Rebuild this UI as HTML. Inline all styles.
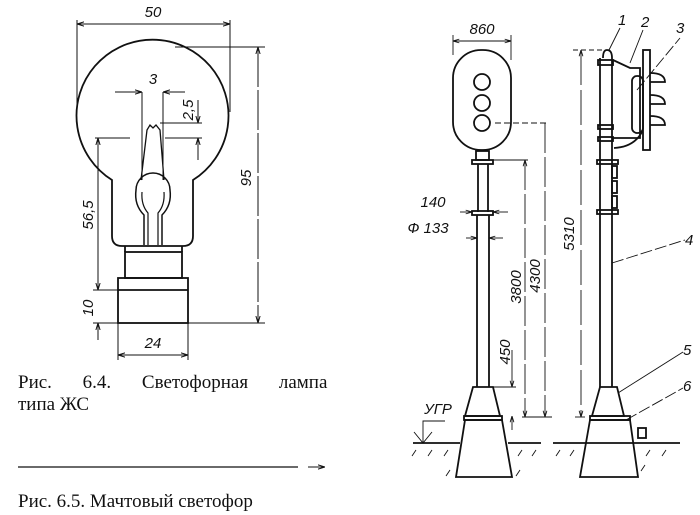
<!DOCTYPE html>
<html><head><meta charset="utf-8"><style>
html,body{margin:0;padding:0;background:#fff}
svg{display:block}
.d{font-family:"Liberation Sans",sans-serif;font-style:italic;font-size:15px;fill:#111}
.c{font-family:"Liberation Serif",serif;font-size:19px;fill:#111}
</style></head><body>
<svg width="700" height="515" viewBox="0 0 700 515" xmlns="http://www.w3.org/2000/svg">
<defs>
<marker id="a" viewBox="0 0 10 10" refX="10" refY="5" markerWidth="7" markerHeight="7" orient="auto-start-reverse"><path d="M0,2 L10,5 L0,8" fill="none" stroke="#111" stroke-width="1.4"/></marker>
</defs>
<g fill="none" stroke="#111" stroke-width="1.8">
<path d="M112,180 A76,76 0 1 1 193,180 L193,236 Q193,246 183,246 L122,246 Q112,246 112,236 Z"/>
<rect x="125" y="252" width="57" height="26"/>
<rect x="118" y="278" width="70" height="45"/>
<line x1="118" y1="290" x2="188" y2="290"/>
<line x1="125" y1="246" x2="125" y2="252"/><line x1="182" y1="246" x2="182" y2="252"/>
<path d="M141,180 L147,130 L150,125 L153,128 L156,125 L160,130 L164,180" stroke-width="1.3"/>
<path d="M144,245 L144,215 Q134,205 136,190 A17,17 0 0 1 170,190 Q172,205 162,215 L162,245" stroke-width="1.5"/>
<path d="M148,245 L148,213 Q141,205 142,192 M158,245 L158,213 Q165,205 164,192" stroke-width="1.2"/>
</g>
<g fill="none" stroke="#111" stroke-width="1">
<line x1="77" y1="20" x2="77" y2="108"/><line x1="230" y1="20" x2="230" y2="112"/>
<line x1="77" y1="24" x2="230" y2="24" marker-start="url(#a)" marker-end="url(#a)"/>
<line x1="175" y1="47" x2="265" y2="47"/><line x1="188" y1="323" x2="265" y2="323"/>
<line x1="258" y1="47" x2="258" y2="323" marker-start="url(#a)" marker-end="url(#a)" stroke-dasharray="40 3"/>
<line x1="95" y1="138" x2="130" y2="138"/>
<line x1="98" y1="138" x2="98" y2="290" marker-start="url(#a)" marker-end="url(#a)"/>
<line x1="93" y1="290" x2="118" y2="290"/><line x1="93" y1="323" x2="118" y2="323"/>
<line x1="98" y1="323" x2="98" y2="340" marker-start="url(#a)"/>
<line x1="118" y1="323" x2="118" y2="360"/><line x1="188" y1="323" x2="188" y2="360"/>
<line x1="118" y1="355" x2="188" y2="355" marker-start="url(#a)" marker-end="url(#a)"/>
<line x1="142" y1="92" x2="142" y2="180"/><line x1="163" y1="92" x2="163" y2="180"/>
<line x1="115" y1="92" x2="142" y2="92" marker-end="url(#a)"/><line x1="185" y1="92" x2="163" y2="92" marker-end="url(#a)"/>
<line x1="160" y1="123" x2="202" y2="123"/><line x1="165" y1="138" x2="202" y2="138"/>
<line x1="198" y1="100" x2="198" y2="123" marker-end="url(#a)"/><line x1="198" y1="160" x2="198" y2="138" marker-end="url(#a)"/>
</g>
<text class="d" x="153" y="17" text-anchor="middle">50</text>
<text class="d" x="153" y="84" text-anchor="middle">3</text>
<text class="d" transform="translate(193,110) rotate(-90)" text-anchor="middle">2,5</text>
<text class="d" transform="translate(251,178) rotate(-90)" text-anchor="middle">95</text>
<text class="d" transform="translate(93,215) rotate(-90)" text-anchor="middle">56,5</text>
<text class="d" transform="translate(93,308) rotate(-90)" text-anchor="middle">10</text>
<text class="d" x="153" y="348" text-anchor="middle">24</text>
<text class="c" x="18" y="388" word-spacing="26">Рис. 6.4. Светофорная лампа</text>
<text class="c" x="18" y="410">типа ЖС</text>
<line x1="18" y1="467" x2="298" y2="467" stroke="#111" stroke-width="1.2"/>
<line x1="308" y1="467" x2="325" y2="467" stroke="#111" stroke-width="1" marker-end="url(#a)"/>
<text class="c" x="18" y="507">Рис. 6.5. Мачтовый светофор</text>

<g fill="none" stroke="#111" stroke-width="1.8">
<rect x="453" y="50" width="58" height="100" rx="28"/>
<circle cx="482" cy="82" r="8"/><circle cx="482" cy="103" r="8"/><circle cx="482" cy="123" r="8"/>
<rect x="476" y="151" width="13" height="9"/>
<rect x="472" y="160" width="21" height="4"/>
<line x1="478" y1="164" x2="478" y2="212"/><line x1="488" y1="164" x2="488" y2="212"/>
<rect x="472" y="211" width="21" height="4"/>
<line x1="477" y1="215" x2="477" y2="387"/><line x1="489" y1="215" x2="489" y2="387"/>
<path d="M473,387 L493,387 L500,416 L465,416 Z"/>
<rect x="464" y="416" width="38" height="4"/>
<path d="M465,420 L502,420 L512,477 L456,477 Z"/>
<line x1="413" y1="443" x2="460" y2="443"/><line x1="508" y1="443" x2="541" y2="443"/>
<line x1="600" y1="58" x2="600" y2="387"/><line x1="612" y1="58" x2="612" y2="387"/>
<path d="M603,58 Q603,50 607,50 Q612,50 612,58"/>
<rect x="598" y="60" width="15" height="5"/>
<path d="M613,60 L630,68 L640,68 L640,138 L612,138"/>
<rect x="643" y="50" width="7" height="100"/>
<rect x="632" y="76" width="11" height="57" rx="5"/>
<path d="M650,73 Q665,73 665,82 L650,82 M650,95 Q665,95 665,104 L650,104 M650,116 Q665,116 665,125 L650,125"/>
<path d="M614,148 Q635,147 643,130"/>
<rect x="598" y="125" width="15" height="4"/><rect x="598" y="137" width="15" height="4"/>
<rect x="597" y="160" width="21" height="4"/><rect x="597" y="210" width="21" height="4"/>
<rect x="612" y="166" width="5" height="12"/><rect x="612" y="181" width="5" height="12"/><rect x="612" y="196" width="5" height="12"/>
<path d="M600,387 L617,387 L624,416 L592,416 Z"/>
<rect x="590" y="416" width="40" height="4"/>
<path d="M590,420 L630,420 L638,477 L580,477 Z"/>
<rect x="638" y="428" width="8" height="10"/>
<line x1="553" y1="443" x2="680" y2="443"/>
</g>
<g stroke="#111" stroke-width="0.9" fill="none">
<path d="M416,450 l-4,6 M432,450 l-4,6 M448,450 l-4,6 M522,450 l-4,6 M536,450 l-4,6 M560,450 l-4,6 M574,450 l-4,6 M650,450 l-4,6 M666,450 l-4,6 M450,470 l-4,6 M520,470 l-4,6 M645,465 l-4,6"/>
<line x1="453" y1="35" x2="453" y2="55"/><line x1="511" y1="35" x2="511" y2="60"/>
<line x1="453" y1="41" x2="511" y2="41" marker-start="url(#a)" marker-end="url(#a)"/>
<line x1="495" y1="123" x2="548" y2="123" stroke-dasharray="6 3"/>
<line x1="493" y1="160" x2="528" y2="160"/>
<line x1="545" y1="123" x2="545" y2="417" stroke-dasharray="30 4" marker-end="url(#a)"/>
<line x1="525" y1="160" x2="525" y2="417" stroke-dasharray="30 4" marker-start="url(#a)" marker-end="url(#a)"/>
<line x1="522" y1="417" x2="552" y2="417"/>
<line x1="493" y1="387" x2="516" y2="387"/>
<line x1="512" y1="350" x2="512" y2="387" marker-end="url(#a)"/>
<line x1="512" y1="430" x2="512" y2="416" marker-end="url(#a)"/>
<line x1="460" y1="212" x2="472" y2="212" marker-end="url(#a)"/><line x1="508" y1="212" x2="493" y2="212" marker-end="url(#a)"/>
<line x1="466" y1="238" x2="477" y2="238" marker-end="url(#a)"/><line x1="503" y1="238" x2="489" y2="238" marker-end="url(#a)"/>
<line x1="573" y1="50" x2="603" y2="50" stroke-dasharray="5 3"/>
<line x1="581" y1="50" x2="581" y2="417" stroke-dasharray="35 5" marker-start="url(#a)" marker-end="url(#a)"/>
<line x1="575" y1="417" x2="585" y2="417"/>
<line x1="609" y1="50" x2="620" y2="28"/>
<line x1="630" y1="63" x2="643" y2="30"/>
<line x1="637" y1="90" x2="680" y2="38" stroke-dasharray="12 3"/>
<line x1="612" y1="263" x2="685" y2="240" stroke-dasharray="12 3"/>
<line x1="618" y1="393" x2="683" y2="352"/>
<line x1="626" y1="420" x2="683" y2="388" stroke-dasharray="12 3"/>
<path d="M423,443 L423,421 L445,421 M414,432 L423,443 L432,432"/>
</g>
<text class="d" x="482" y="34" text-anchor="middle">860</text>
<text class="d" x="433" y="207" text-anchor="middle">140</text>
<text class="d" x="428" y="233" text-anchor="middle">Ф 133</text>
<text class="d" transform="translate(521,287) rotate(-90)" text-anchor="middle">3800</text>
<text class="d" transform="translate(540,276) rotate(-90)" text-anchor="middle">4300</text>
<text class="d" transform="translate(510,352) rotate(-90)" text-anchor="middle">450</text>
<text class="d" transform="translate(574,234) rotate(-90)" text-anchor="middle">5310</text>
<text class="d" x="438" y="414" text-anchor="middle" font-size="13">УГР</text>
<text class="d" x="618" y="25">1</text>
<text class="d" x="641" y="27">2</text>
<text class="d" x="676" y="33">3</text>
<text class="d" x="685" y="245">4</text>
<text class="d" x="683" y="355">5</text>
<text class="d" x="683" y="391">6</text>
</svg>
</body></html>
